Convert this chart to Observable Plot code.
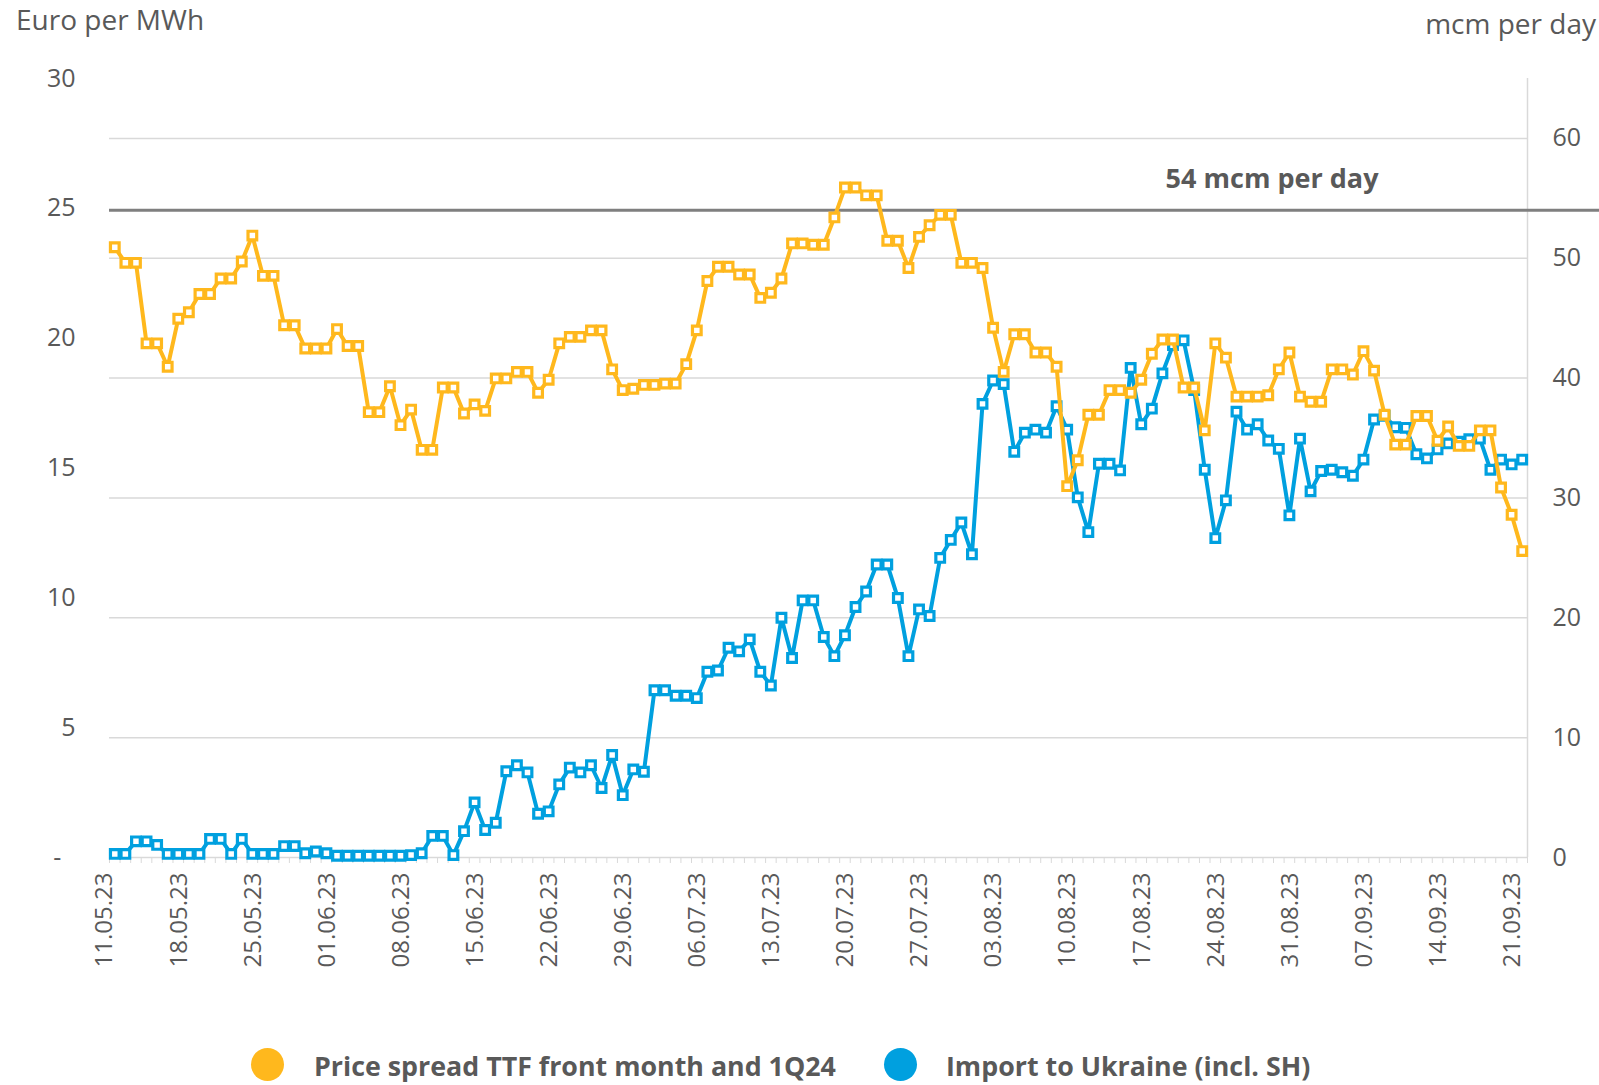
<!DOCTYPE html>
<html>
<head>
<meta charset="utf-8">
<script src="https://cdn.jsdelivr.net/npm/d3@7"></script>
<script src="https://cdn.jsdelivr.net/npm/@observablehq/plot@0.6"></script>
<style>
  html, body { margin: 0; padding: 0; background: #fff; }
  #wrap { position: relative; width: 1599px; height: 1085px; overflow: hidden; font-family: "Open Sans", sans-serif; color: #595959; }
  #chart { position: absolute; left: 0; top: 0; }
  .lab { position: absolute; font-size: 28px; line-height: 28px; white-space: nowrap; }
  .legdot { position: absolute; width: 33px; height: 33px; border-radius: 50%; }
  .legtxt { position: absolute; font-size: 26.8px; line-height: 26.8px; font-weight: 700; white-space: nowrap; }
</style>
</head>
<body>
<div id="wrap">
  <div id="chart"></div>
  <div class="lab" id="labL" style="left:16px; top:5px;">Euro per MWh</div>
  <div class="lab" id="labR" style="right:3px; top:9px;">mcm per day</div>
  <div id="legend"></div>
</div>
<script>
// ---------------- data ----------------
const startDate = "2023-05-11";          // first daily observation
const seriesNames = ["Price spread TTF front month and 1Q24", "Import to Ukraine (incl. SH)"];
const seriesColors = ["#FFB81D", "#00A0DF"];

// Euro per MWh (left axis), one value per day
const priceSpread = [
  23.5, 22.9, 22.9, 19.8, 19.8, 18.9, 20.75, 21.0, 21.7, 21.7,
  22.3, 22.3, 22.95, 23.95, 22.4, 22.4, 20.5, 20.5, 19.6, 19.6,
  19.6, 20.35, 19.7, 19.7, 17.15, 17.15, 18.15, 16.65, 17.25, 15.7,
  15.7, 18.1, 18.1, 17.1, 17.45, 17.2, 18.45, 18.45, 18.7, 18.7,
  17.9, 18.4, 19.8, 20.05, 20.05, 20.3, 20.3, 18.8, 18.0, 18.05,
  18.2, 18.2, 18.25, 18.25, 19.0, 20.3, 22.2, 22.75, 22.75, 22.45,
  22.45, 21.55, 21.75, 22.3, 23.65, 23.65, 23.6, 23.6, 24.65, 25.8,
  25.8, 25.5, 25.5, 23.75, 23.75, 22.7, 23.9, 24.35, 24.75, 24.75,
  22.9, 22.9, 22.7, 20.4, 18.7, 20.15, 20.15, 19.45, 19.45, 18.9,
  14.3, 15.3, 17.05, 17.05, 18.0, 18.0, 17.9, 18.4, 19.4, 19.95,
  19.95, 18.1, 18.1, 16.45, 19.8, 19.25, 17.75, 17.75, 17.75, 17.8,
  18.8, 19.45, 17.75, 17.55, 17.55, 18.8, 18.8, 18.6, 19.5, 18.75,
  17.05, 15.9, 15.9, 17.0, 17.0, 16.05, 16.6, 15.85, 15.85, 16.45,
  16.45, 14.25, 13.2, 11.8
];

// mcm per day (right axis), one value per day
const importUkraine = [
  0.3, 0.3, 1.35, 1.35, 1.05, 0.3, 0.3, 0.3, 0.3, 1.55,
  1.55, 0.3, 1.55, 0.3, 0.3, 0.3, 0.95, 0.95, 0.35, 0.5,
  0.35, 0.15, 0.15, 0.15, 0.15, 0.15, 0.15, 0.15, 0.2, 0.35,
  1.8, 1.8, 0.2, 2.2, 4.6, 2.3, 2.9, 7.2, 7.7, 7.1,
  3.65, 3.85, 6.1, 7.5, 7.1, 7.7, 5.8, 8.55, 5.2, 7.35,
  7.15, 13.95, 13.95, 13.5, 13.5, 13.3, 15.5, 15.6, 17.5, 17.2,
  18.2, 15.5, 14.35, 20.0, 16.65, 21.45, 21.45, 18.4, 16.8, 18.55,
  20.9, 22.2, 24.45, 24.45, 21.65, 16.8, 20.7, 20.15, 25.0, 26.5,
  27.95, 25.3, 37.85, 39.8, 39.5, 33.85, 35.45, 35.7, 35.45, 37.65,
  35.7, 30.05, 27.15, 32.85, 32.85, 32.3, 40.85, 36.15, 37.45, 40.4,
  42.75, 43.15, 39.0, 32.35, 26.65, 29.8, 37.2, 35.7, 36.15, 34.8,
  34.1, 28.55, 34.95, 30.55, 32.25, 32.35, 32.15, 31.85, 33.2, 36.55,
  36.85, 35.9, 35.85, 33.65, 33.3, 34.05, 34.55, 34.7, 34.9, 34.95,
  32.35, 33.2, 32.8, 33.2
];

const xTickLabels = ["11.05.23","18.05.23","25.05.23","01.06.23","08.06.23","15.06.23","22.06.23",
  "29.06.23","06.07.23","13.07.23","20.07.23","27.07.23","03.08.23","10.08.23","17.08.23",
  "24.08.23","31.08.23","07.09.23","14.09.23","21.09.23"];
const leftTicks = [0, 5, 10, 15, 20, 25, 30];          // Euro per MWh
const rightTicks = [0, 10, 20, 30, 40, 50, 60];        // mcm per day
const leftMax = 30, rightMax = 65;
const capacityLine = 54;                               // mcm per day
const capacityLabel = "54 mcm per day";

// ---------------- build ----------------
const start = d3.utcParse("%Y-%m-%d")(startDate);
const rows = priceSpread.map((p, i) => ({
  date: d3.utcDay.offset(start, i),
  price: p,
  imp: importUkraine[i]
}));
const toRight = v => v * rightMax / leftMax;   // map Euro values onto the shared (mcm) y scale
const parseTick = d3.utcParse("%d.%m.%y");
const tickDates = xTickLabels.map(parseTick);
const first = rows[0].date, last = rows[rows.length - 1].date;
const xDomain = [d3.utcHour.offset(first, -12), d3.utcHour.offset(last, 12)];
const boundaries = rows.map(r => d3.utcHour.offset(r.date, -12)).concat([xDomain[1]]);

const W = 1599, H = 1000;
const chart = Plot.plot({
  width: W, height: H,
  marginLeft: 109, marginRight: 72, marginTop: 78, marginBottom: H - 857,
  style: { fontFamily: "Open Sans, sans-serif", color: "#595959", background: "transparent" },
  x: { type: "utc", domain: xDomain, label: null },
  y: { domain: [0, rightMax], label: null },
  marks: [
    Plot.gridY(rightTicks.filter(t => t > 0), { stroke: "#d9d9d9", strokeOpacity: 1, strokeWidth: 1.5 }),
    Plot.ruleY([0], { stroke: "#d9d9d9", strokeWidth: 1.5 }),
    Plot.ruleX([xDomain[1]], { stroke: "#d9d9d9", strokeWidth: 1.5 }),
    Plot.axisX(boundaries, { tickSize: 6, stroke: "#d9d9d9", tickFormat: () => "" }),
    Plot.axisX(tickDates, {
      tickSize: 0, tickPadding: 15, tickRotate: -90, fontSize: 24, fill: "#595959",
      tickFormat: d3.utcFormat("%d.%m.%y"), dx: -10
    }),
    Plot.axisY(leftTicks.map(toRight), {
      anchor: "left", tickSize: 0, tickPadding: 34, fontSize: 25, fill: "#595959",
      tickFormat: d => { const v = Math.round(d * leftMax / rightMax); return v === 0 ? "-\u2007" : String(v); }
    }),
    Plot.axisY(rightTicks, { anchor: "right", tickSize: 0, tickPadding: 25, fontSize: 25, fill: "#595959" }),
    Plot.ruleY([capacityLine], { stroke: "#7f7f7f", strokeWidth: 3, insetRight: -72 }),
    Plot.text([capacityLine], {
      y: d => d, frameAnchor: "right", textAnchor: "end", dx: -149, dy: -31,
      text: () => capacityLabel, fontWeight: "bold", fontSize: 27, fill: "#595959"
    }),
    Plot.line(rows, { x: "date", y: "imp", stroke: seriesColors[1], strokeWidth: 4 }),
    Plot.dot(rows, { x: "date", y: "imp", symbol: "square", r: 4.9, fill: "white", stroke: seriesColors[1], strokeWidth: 3.2 }),
    Plot.line(rows, { x: "date", y: d => toRight(d.price), stroke: seriesColors[0], strokeWidth: 4 }),
    Plot.dot(rows, { x: "date", y: d => toRight(d.price), symbol: "square", r: 4.9, fill: "white", stroke: seriesColors[0], strokeWidth: 3.2 })
  ]
});
document.getElementById("chart").appendChild(chart);

// legend
const legend = document.getElementById("legend");
const legendPos = [{ dot: 251, txt: 314 }, { dot: 884, txt: 946 }];
seriesNames.forEach((name, i) => {
  const dot = document.createElement("div");
  dot.className = "legdot";
  dot.style.left = legendPos[i].dot + "px";
  dot.style.top = "1048px";
  dot.style.background = seriesColors[i];
  legend.appendChild(dot);
  const t = document.createElement("div");
  t.className = "legtxt";
  t.style.left = legendPos[i].txt + "px";
  t.style.top = "1053px";
  t.textContent = name;
  legend.appendChild(t);
});
</script>
</body>
</html>
